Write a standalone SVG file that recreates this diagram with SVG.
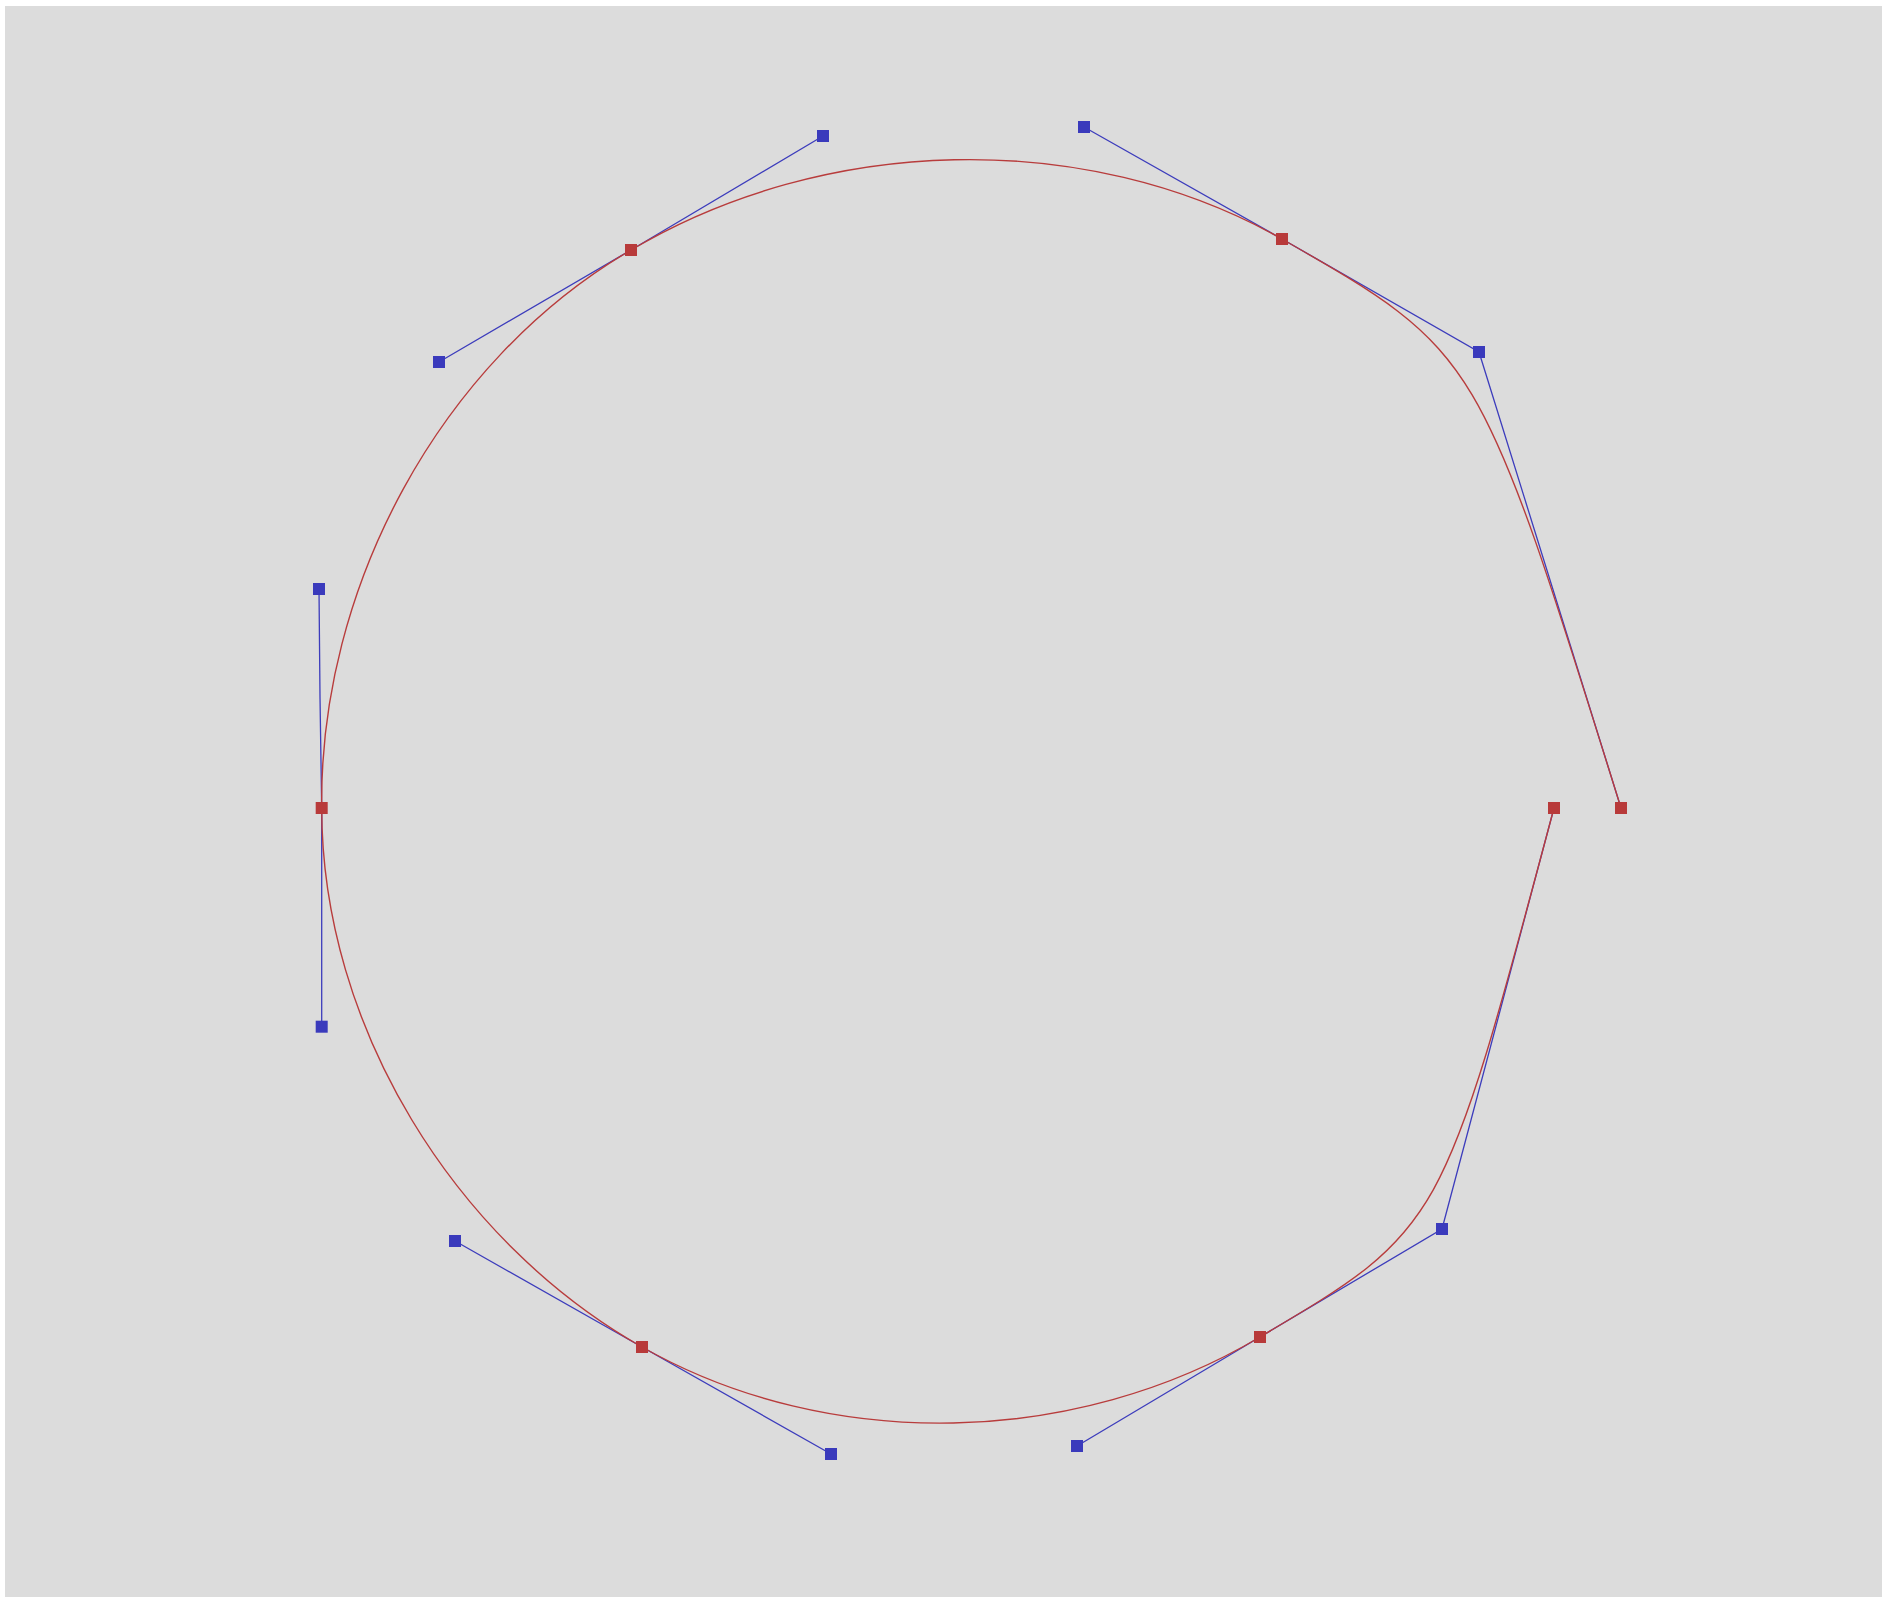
<svg xmlns="http://www.w3.org/2000/svg" width="1895" height="1599" viewBox="0 0 1895 1599">
<style>
.curve{fill:none;stroke:#b83c3c;stroke-width:1.4}
.handle{fill:none;stroke:#3c3cbc;stroke-width:1.3}
.anchor{fill:#b83a3a}
.ctrl{fill:#3a3abc}
</style>
<rect x="0" y="0" width="1895" height="1599" fill="#ffffff"/>
<rect x="5" y="6" width="1877" height="1591" fill="#dcdcdc"/>
<g id="connectors">
<path class="handle" d="M319,589 L320,697 L321.7,808 L321.7,1026.7"/>
<path class="handle" d="M439,362 L631,250 L823,136"/>
<path class="handle" d="M1084,127 L1282,239 L1479,352 L1621,808"/>
<path class="handle" d="M1554,808 L1442,1229 L1260,1337 L1077,1446"/>
<path class="handle" d="M455,1241 L642,1347 L831,1454"/>
<path class="curve" d="M321.7,808 C319,589 439,362 631,250 C823,136 1084,127 1282,239 C1479,352 1479,352 1621,808 M1554,808 C1442,1229 1442,1229 1260,1337 C1077,1446 831,1454 642,1347 C455,1241 321.7,1026.7 321.7,808"/>
</g>
<g id="h0a"><rect class="ctrl" x="313" y="583" width="12" height="12"/></g>
<g id="a0"><rect class="anchor" x="315.7" y="802" width="12" height="12"/></g>
<g id="h0b"><rect class="ctrl" x="315.7" y="1020.7" width="12" height="12"/></g>
<g id="h1a"><rect class="ctrl" x="433" y="356" width="12" height="12"/></g>
<g id="a1"><rect class="anchor" x="625" y="244" width="12" height="12"/></g>
<g id="h1b"><rect class="ctrl" x="817" y="130" width="12" height="12"/></g>
<g id="h2a"><rect class="ctrl" x="1078" y="121" width="12" height="12"/></g>
<g id="a2"><rect class="anchor" x="1276" y="233" width="12" height="12"/></g>
<g id="h2b"><rect class="ctrl" x="1473" y="346" width="12" height="12"/></g>
<g id="a3"><rect class="anchor" x="1615" y="802" width="12" height="12"/></g>
<g id="a3b"><rect class="anchor" x="1548" y="802" width="12" height="12"/></g>
<g id="h4a"><rect class="ctrl" x="1436" y="1223" width="12" height="12"/></g>
<g id="a4"><rect class="anchor" x="1254" y="1331" width="12" height="12"/></g>
<g id="h4b"><rect class="ctrl" x="1071" y="1440" width="12" height="12"/></g>
<g id="h5a"><rect class="ctrl" x="825" y="1448" width="12" height="12"/></g>
<g id="a5"><rect class="anchor" x="636" y="1341" width="12" height="12"/></g>
<g id="h5b"><rect class="ctrl" x="449" y="1235" width="12" height="12"/></g>
</svg>
